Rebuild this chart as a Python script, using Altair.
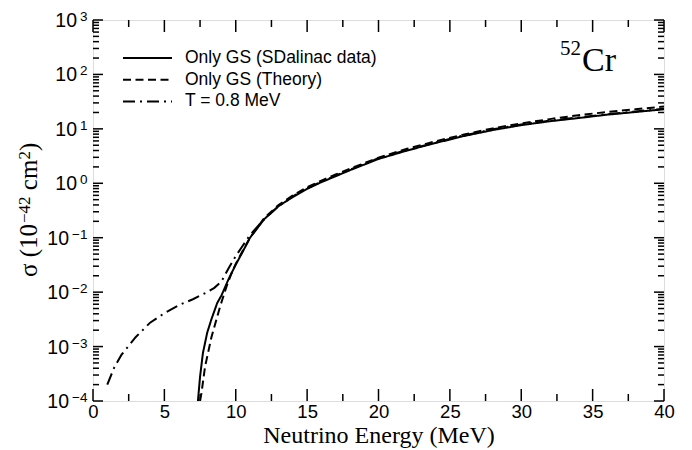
import altair as alt
import pandas as pd

# ---- data ----
series_names = ["Only GS (SDalinac data)", "Only GS (Theory)", "T = 0.8 MeV"]
series_dashes = [[1, 0], [8, 4.5], [12, 5, 2, 5]]

E_sdalinac = [7.35, 7.5, 7.7, 8.0, 8.3, 8.7, 9.0, 9.5, 10.0, 10.5, 11.0, 12.0, 13.0, 14.0,
              15.0, 16.0, 17.0, 18.0, 20.0, 22.0, 24.0, 26.0, 28.0, 30.0, 32.0, 34.0, 36.0, 38.0, 40.0]
sigma_sdalinac = [1.0e-4, 2.8e-4, 7.6e-4, 1.8e-3, 3.2e-3, 6.3e-3, 8.7e-3, 1.74e-2, 3.2e-2, 5.6e-2,
                  0.10, 0.22, 0.38, 0.56, 0.79, 1.05, 1.35, 1.74, 2.8, 4.0, 5.5, 7.4, 9.5, 11.7,
                  13.8, 15.8, 18.2, 20.4, 22.9]

E_theory = [7.5, 7.6, 7.85, 8.3, 8.9, 9.35, 9.7, 10.0, 10.5, 11.0, 12.0, 13.0, 14.0, 15.0, 16.0,
            17.0, 18.0, 20.0, 22.0, 24.0, 26.0, 28.0, 30.0, 32.0, 34.0, 36.0, 38.0, 40.0]
sigma_theory = [1.0e-4, 1.4e-4, 4.3e-4, 1.5e-3, 5.4e-3, 1.26e-2, 2.2e-2, 3.3e-2, 5.8e-2, 0.10,
                0.23, 0.40, 0.60, 0.85, 1.12, 1.45, 1.86, 2.95, 4.3, 5.9, 7.9, 10.2, 12.6, 15.1,
                17.8, 20.4, 22.9, 25.7]

E_t08 = [1.0, 1.5, 2.0, 3.0, 4.0, 5.0, 6.0, 7.0, 8.0, 8.5, 9.0, 9.5, 10.0, 10.5, 11.0, 12.0,
         13.0, 14.0, 15.0, 16.0, 17.0, 18.0, 20.0, 22.0, 24.0, 26.0, 28.0, 30.0, 32.0, 34.0,
         36.0, 38.0, 40.0]
sigma_t08 = [2.0e-4, 4.2e-4, 7.1e-4, 1.5e-3, 2.75e-3, 4.1e-3, 5.75e-3, 7.4e-3, 1.0e-2, 1.2e-2,
             1.58e-2, 2.75e-2, 4.6e-2, 7.2e-2, 0.112, 0.22, 0.38, 0.575, 0.81, 1.07, 1.38, 1.78,
             2.9, 4.1, 5.6, 7.6, 9.8, 12.0, 14.1, 16.2, 18.6, 20.9, 23.4]

x_major_ticks = [0, 5, 10, 15, 20, 25, 30, 35, 40]
x_minor_ticks = [2.5, 7.5, 12.5, 17.5, 22.5, 27.5, 32.5, 37.5]
y_major_ticks = [1e-4, 1e-3, 1e-2, 1e-1, 1e0, 1e1, 1e2, 1e3]
y_minor_ticks = [k * d for d in [1e-4, 1e-3, 1e-2, 1e-1, 1e0, 1e1, 1e2] for k in range(2, 10)]

y_pos_label_values = [1e0, 1e1, 1e2, 1e3]
y_pos_label_exps = ["0", "1", "2", "3"]
y_neg_label_values = [1e-4, 1e-3, 1e-2, 1e-1]
y_neg_label_exps = ["\u22124", "\u22123", "\u22122", "\u22121"]

x_title = "Neutrino Energy (MeV)"
y_title_parts = ["\u03c3 (10", "\u221242", "cm", "2", ")"]   # main, sup, main, sup, main

isotope_mass = ["52"]
isotope_symbol = ["Cr"]

# ---- build tables ----
rows = []
for name, E, s in [(series_names[0], E_sdalinac, sigma_sdalinac),
                   (series_names[1], E_theory, sigma_theory),
                   (series_names[2], E_t08, sigma_t08)]:
    for i, (e, v) in enumerate(zip(E, s)):
        rows.append({"series": name, "E": e, "sigma": v, "order": i})
df = pd.DataFrame(rows)

W, H = 571, 381
SANS = "Liberation Sans"
SERIF = "Liberation Serif"

x_scale = alt.Scale(domain=[0, 40], nice=False, zero=False)
y_scale = alt.Scale(type="log", domain=[1e-4, 1e3], nice=False)

x_axis = alt.Axis(values=x_major_ticks, title=x_title, ticks=False,
                  domain=False, grid=False, labelFont=SANS, labelFontSize=18.5,
                  labelColor="black", labelPadding=1, labelFlush=False, titleFont=SERIF,
                  titleFontSize=24, titleFontWeight="normal", titleColor="black",
                  titlePadding=3, format="d")
y_axis = alt.Axis(values=y_major_ticks, labels=False, title=None, ticks=False,
                  domain=False, grid=False)

lines = alt.Chart(df).mark_line(color="black", strokeWidth=2, clip=True).encode(
    x=alt.X("E:Q", scale=x_scale, axis=x_axis, title=x_title),
    y=alt.Y("sigma:Q", scale=y_scale, axis=y_axis, title=None),
    strokeDash=alt.StrokeDash("series:N",
                              scale=alt.Scale(domain=series_names, range=series_dashes),
                              legend=None),
    order="order:Q",
)

def tick_layer(vals, channel, length, side):
    d = pd.DataFrame({"v": vals})
    base = alt.Chart(d).mark_rule(color="black", strokeWidth=1.5)
    if channel == "x":
        enc = dict(x=alt.X("v:Q", scale=x_scale, axis=x_axis, title=x_title))
        if side == "bottom":
            enc.update(y=alt.value(H), y2=alt.value(H - length))
        else:
            enc.update(y=alt.value(0), y2=alt.value(length))
    else:
        enc = dict(y=alt.Y("v:Q", scale=y_scale, axis=y_axis, title=None))
        if side == "left":
            enc.update(x=alt.value(0), x2=alt.value(length))
        else:
            enc.update(x=alt.value(W), x2=alt.value(W - length))
    return base.encode(**enc)

ticks = [
    tick_layer(x_major_ticks, "x", 12, "bottom"),
    tick_layer(x_minor_ticks, "x", 7, "bottom"),
    tick_layer(x_major_ticks, "x", 12, "top"),
    tick_layer(x_minor_ticks, "x", 7, "top"),
    tick_layer(y_major_ticks, "y", 10, "left"),
    tick_layer(y_minor_ticks, "y", 6, "left"),
    tick_layer(y_major_ticks, "y", 10, "right"),
    tick_layer(y_minor_ticks, "y", 6, "right"),
]

# ---- y tick labels: "10" with a raised exponent ----
def ylabel_layers(vals, exps, base_right):
    d = pd.DataFrame({"v": vals, "exp": exps, "base": ["10"] * len(vals)})
    base = alt.Chart(d).mark_text(font=SANS, fontSize=19.5, align="right",
                                  baseline="alphabetic", dy=7, color="black").encode(
        y=alt.Y("v:Q", scale=y_scale, axis=y_axis, title=None),
        x=alt.value(base_right), text="base:N")
    sup = alt.Chart(d).mark_text(font=SANS, fontSize=13.5, align="right",
                                 baseline="alphabetic", dy=1, color="black").encode(
        y=alt.Y("v:Q", scale=y_scale, axis=y_axis, title=None),
        x=alt.value(-5.5), text="exp:N")
    return [base, sup]

ylabels = ylabel_layers(y_pos_label_values, y_pos_label_exps, -16) + \
          ylabel_layers(y_neg_label_values, y_neg_label_exps, -24)

# ---- y title built from rotated pieces (superscripts raised) ----
F_MAIN, F_SUP = 25, 17
main_base_x, sup_base_x = -56, -63
P1 = 204
w_sup1 = 1.564 * F_SUP
w_space = 0.25 * F_MAIN
w_cm = 1.222 * F_MAIN
w_sup2 = 0.5 * F_SUP
piece_specs = [
    (y_title_parts[0], F_MAIN, main_base_x, P1, "right"),
    (y_title_parts[1], F_SUP, sup_base_x, P1 - 1, "left"),
    (y_title_parts[2], F_MAIN, main_base_x, P1 - 1 - w_sup1 - w_space, "left"),
    (y_title_parts[3], F_SUP, sup_base_x, P1 - 1 - w_sup1 - w_space - w_cm, "left"),
    (y_title_parts[4], F_MAIN, main_base_x, P1 - 1 - w_sup1 - w_space - w_cm - w_sup2, "left"),
]
ytitle_layers = []
for txt, fs, bx, yy, al in piece_specs:
    ytitle_layers.append(
        alt.Chart(pd.DataFrame({"t": [txt]})).mark_text(
            font=SERIF, fontSize=fs, angle=270, align=al, baseline="alphabetic",
            color="black").encode(x=alt.value(bx), y=alt.value(yy), text="t:N"))

# ---- legend (upper-left corner of the plot) ----
legend_layers = []
for i, (name, dash) in enumerate(zip(series_names, series_dashes)):
    ld = pd.DataFrame({"label": [name]})
    ypos = 38 + 21.7 * i
    legend_layers.append(
        alt.Chart(ld).mark_rule(color="black", strokeWidth=2, strokeDash=dash).encode(
            x=alt.value(30), x2=alt.value(79), y=alt.value(ypos)))
    legend_layers.append(
        alt.Chart(ld).mark_text(font=SANS, fontSize=17.5, align="left", baseline="middle",
                                color="black").encode(
            x=alt.value(92), y=alt.value(ypos), text="label:N"))

mass_text = alt.Chart(pd.DataFrame({"t": isotope_mass})).mark_text(
    font=SERIF, fontSize=21, align="right", baseline="alphabetic", color="black"
).encode(x=alt.value(488), y=alt.value(35), text="t:N")

symbol_text = alt.Chart(pd.DataFrame({"t": isotope_symbol})).mark_text(
    font=SERIF, fontSize=34, align="left", baseline="alphabetic", color="black"
).encode(x=alt.value(489), y=alt.value(51), text="t:N")

chart = alt.layer(lines, *ticks, *ylabels, *ytitle_layers, *legend_layers,
                  mass_text, symbol_text).properties(
    width=W, height=H,
    autosize=alt.AutoSizeParams(type="none"),
    padding={"left": 93, "top": 20, "right": 28, "bottom": 49},
).configure_view(stroke="black", strokeWidth=2).configure(background="white")

chart.save("out.html", embed_options={"renderer": "svg", "actions": False})
